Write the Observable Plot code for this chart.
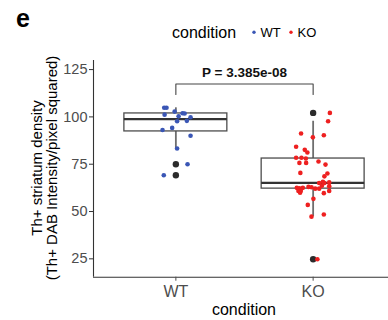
<!DOCTYPE html>
<html><head><meta charset="utf-8">
<script src="https://cdn.jsdelivr.net/npm/d3@7"></script>
<script src="https://cdn.jsdelivr.net/npm/@observablehq/plot@0.6"></script>
<style>
body{margin:0;background:#fff;}
#wrap{position:relative;width:388px;height:320px;font-family:"Liberation Sans",Arial,sans-serif;}
#wrap svg{position:absolute;left:0;top:0;overflow:hidden;}
</style></head><body><div id="wrap"></div>
<script>
// ---- data ----
const categories = ["WT", "KO"];
const colors = ["#3a56b5", "#ee2020"];
const wtValues = [104.8,104.8,101.2,102.8,101.9,101.8,100.3,99.8,97.7,97.9,93.1,94.2,90.0,83.3,75.0,69.2];
const wtJitter = [-0.085,-0.068,-0.082,-0.009,0.049,0.064,0.020,0.107,0.009,0.080,-0.097,-0.027,0.107,0.009,0.085,-0.088];
const koValues = [102.1,97.7,91.2,89.2,90.3,84.2,82.6,81.2,78.4,78.4,78.0,75.7,75.7,76.4,74.8,70.4,70.1,68.6,65.7,65.1,65.1,65.5,63.4,63.6,62.5,62.3,62.5,63.0,62.8,60.9,60.9,62.1,62.1,60.9,59.7,59.9,56.7,53.5,48.4,47.3,24.8];
const koJitter = [0.122,0.109,-0.088,-0.002,0.078,-0.124,-0.061,-0.042,-0.124,-0.085,-0.053,-0.100,-0.051,0.039,0.090,-0.093,0.104,0.082,0.071,0.044,0.082,0.117,0.117,0.064,-0.119,-0.100,-0.075,-0.034,-0.012,-0.090,-0.107,0.015,0.044,0.117,0.078,-0.095,0.002,-0.039,0.078,-0.012,0.031];
const yTicks = [25, 50, 75, 100, 125];
const yDomain = [15.3, 129.8];
const pLabel = "P = 3.385e-08";
const bracketTop = 117.4, bracketTip = 111.8, pLabelValue = 123.2;
const yTitle = ["Th+ striatum density", "(Th+ DAB Intensity/pixel squared)"];
const xTitle = "condition";
const tag = "e";

// ---- derived ----
const valueSets = [wtValues, koValues];
const jitterSets = [wtJitter, koJitter];
const points = categories.flatMap((c, i) => valueSets[i].map((v, j) => ({cat: c, x: i + 1 + jitterSets[i][j], v})));
const stats = categories.map((c, i) => {
  const s = valueSets[i].slice().sort(d3.ascending);
  const q1 = d3.quantile(s, 0.25), med = d3.quantile(s, 0.5), q3 = d3.quantile(s, 0.75);
  const iqr = q3 - q1, lf = q1 - 1.5 * iqr, uf = q3 + 1.5 * iqr;
  const inside = s.filter(v => v >= lf && v <= uf);
  return {cat: c, pos: i + 1, q1, med, q3, lo: d3.min(inside), hi: d3.max(inside), out: s.filter(v => v < lf || v > uf)};
});
const outliers = stats.flatMap(d => d.out.map(v => ({pos: d.pos, v})));
const bracket = [{x: 1, y: bracketTip}, {x: 1, y: bracketTop}, {x: 2, y: bracketTop}, {x: 2, y: bracketTip}];

const plot = Plot.plot({
  width: 388, height: 320,
  marginLeft: 93, marginRight: 0, marginTop: 60, marginBottom: 43.3,
  style: {fontFamily: "Liberation Sans, Arial, sans-serif", background: "transparent"},
  x: {type: "linear", domain: [0.4, 2.6], range: [93, 395]},
  y: {domain: yDomain},
  color: {domain: categories, range: colors},
  marks: [
    Plot.ruleX(stats, {x: "pos", y1: "lo", y2: "q1", stroke: "#6e6e6e", strokeWidth: 1.8}),
    Plot.ruleX(stats, {x: "pos", y1: "q3", y2: "hi", stroke: "#6e6e6e", strokeWidth: 1.8}),
    Plot.rect(stats, {x1: d => d.pos - 0.375, x2: d => d.pos + 0.375, y1: "q1", y2: "q3", fill: "white", stroke: "#4d4d4d", strokeWidth: 1.3}),
    Plot.ruleY(stats, {y: "med", x1: d => d.pos - 0.375, x2: d => d.pos + 0.375, stroke: "#333", strokeWidth: 2.2}),
    Plot.dot(outliers, {x: "pos", y: "v", r: 3.2, fill: "#2b2b2b", stroke: "none"}),
    Plot.dot(points, {x: "x", y: "v", r: 2.3, fill: "cat", stroke: "none"}),
    Plot.line(bracket, {x: "x", y: "y", stroke: "#444", strokeWidth: 1.1}),
    Plot.text([pLabel], {x: 1.5, y: pLabelValue, text: d => d, fontWeight: "bold", fontSize: 13.5, fill: "#111"}),
    Plot.ruleX([0.4], {stroke: "#333", strokeWidth: 1.1}),
    Plot.ruleY([yDomain[0]], {stroke: "#333", strokeWidth: 1.1}),
    Plot.axisY({ticks: yTicks, tickSize: 4, tickPadding: 2, fontSize: 14.5, color: "#4d4d4d", label: null, stroke: "#333"}),
    Plot.axisX({ticks: [1, 2], tickFormat: d => categories[d - 1], tickSize: 4, tickPadding: 4, fontSize: 16, color: "#4d4d4d", label: null})
  ]
});
const wrap = document.getElementById("wrap");
wrap.appendChild(plot);

// overlay: tag, legend, axis titles
const ov = d3.select(wrap).append("svg").attr("width", 388).attr("height", 320)
  .style("font-family", "Liberation Sans, Arial, sans-serif");
ov.append("text").attr("x", 16).attr("y", 26.7).attr("font-size", 25).attr("font-weight", "bold").attr("fill", "#000").text(tag);
ov.append("text").attr("x", 172).attr("y", 37.5).attr("font-size", 16).attr("fill", "#000").text("condition");
const legX = [254, 291];
categories.forEach((c, i) => {
  ov.append("circle").attr("cx", legX[i]).attr("cy", 32.3).attr("r", 1.7).attr("fill", colors[i]);
  ov.append("text").attr("x", legX[i] + 6.5).attr("y", 37.3).attr("font-size", 13).attr("fill", "#000").text(c);
});
const yt = ov.append("g").attr("transform", "translate(0,168) rotate(-90)").attr("text-anchor", "middle").attr("font-size", 15).attr("fill", "#000");
yt.append("text").attr("x", 0).attr("y", 42).text(yTitle[0]);
yt.append("text").attr("x", 0).attr("y", 57).text(yTitle[1]);
ov.append("text").attr("x", 244).attr("y", 315).attr("text-anchor", "middle").attr("font-size", 16).attr("fill", "#000").text(xTitle);
</script></body></html>
